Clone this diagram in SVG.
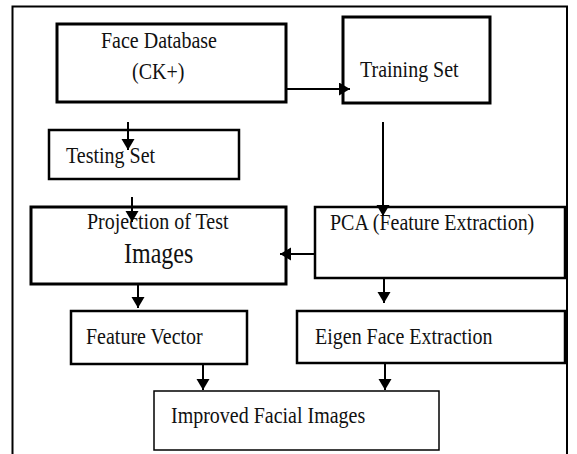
<svg xmlns="http://www.w3.org/2000/svg" width="577" height="454" viewBox="0 0 577 454">
<style>
  .box { fill: #fff; stroke: #000; }
  .lbl { font-family: "Liberation Serif", "Times New Roman", serif; font-size: 20px; fill: #111; }
  .big { font-size: 24px; }
  .conn line { stroke: #000; stroke-width: 2; marker-end: url(#arrow); }
</style>
<defs>
  <marker id="arrow" markerUnits="userSpaceOnUse" markerWidth="12" markerHeight="14" refX="11" refY="6.5" orient="auto" viewBox="0 0 12 14">
    <path d="M0,0 L11,6.5 L0,13 z" fill="#000"/>
  </marker>
</defs>
<rect width="577" height="454" fill="#fff"/>
<path id="frame" d="M12.5,454 V6.5 H567 V454" fill="none" stroke="#000" stroke-width="2"/>

<g id="face-database">
  <rect class="box" x="57" y="24" width="229" height="78" stroke-width="3"/>
  <text class="lbl" transform="translate(101,48) scale(1,1.2)">Face Database</text>
  <text class="lbl" transform="translate(132,79) scale(1,1.2)">(CK+)</text>
</g>
<g id="training-set">
  <rect class="box" x="343" y="17" width="147" height="86" stroke-width="3"/>
  <text class="lbl" transform="translate(360,77) scale(1,1.2)">Training Set</text>
</g>
<g id="testing-set">
  <rect class="box" x="49" y="130" width="190" height="49" stroke-width="2.5"/>
  <text class="lbl" transform="translate(66,163) scale(1,1.2)">Testing Set</text>
</g>
<g id="projection">
  <rect class="box" x="31" y="207" width="255" height="77" stroke-width="3"/>
  <text class="lbl" transform="translate(87,229) scale(1,1.2)">Projection of Test</text>
  <text class="lbl big" transform="translate(124,263) scale(1,1.2)">Images</text>
</g>
<g id="pca">
  <rect class="box" x="315" y="207" width="250" height="71" stroke-width="2.5"/>
  <text class="lbl" transform="translate(330,230) scale(1,1.2)">PCA (Feature Extraction)</text>
</g>
<g id="feature-vector">
  <rect class="box" x="71" y="311" width="176" height="53" stroke-width="2.5"/>
  <text class="lbl" transform="translate(86,344) scale(1,1.2)">Feature Vector</text>
</g>
<g id="eigen-face">
  <rect class="box" x="297" y="311" width="268" height="52" stroke-width="2.5"/>
  <text class="lbl" transform="translate(315,344) scale(1,1.2)">Eigen Face Extraction</text>
</g>
<g id="improved">
  <rect class="box" x="154" y="391" width="285" height="59" stroke-width="1.5"/>
  <text class="lbl" transform="translate(171,423) scale(1,1.2)">Improved Facial Images</text>
</g>

<g id="connectors" class="conn">
  <line x1="286" y1="89" x2="350" y2="89"/>
  <line x1="128" y1="122" x2="128" y2="150"/>
  <line x1="383" y1="122" x2="383" y2="216"/>
  <line x1="132" y1="197" x2="132" y2="222"/>
  <line x1="315" y1="254" x2="280" y2="254"/>
  <line x1="384" y1="278" x2="384" y2="303"/>
  <line x1="138" y1="284" x2="138" y2="308"/>
  <line x1="203" y1="364" x2="203" y2="390"/>
  <line x1="385" y1="363" x2="385" y2="390"/>
</g>
</svg>
